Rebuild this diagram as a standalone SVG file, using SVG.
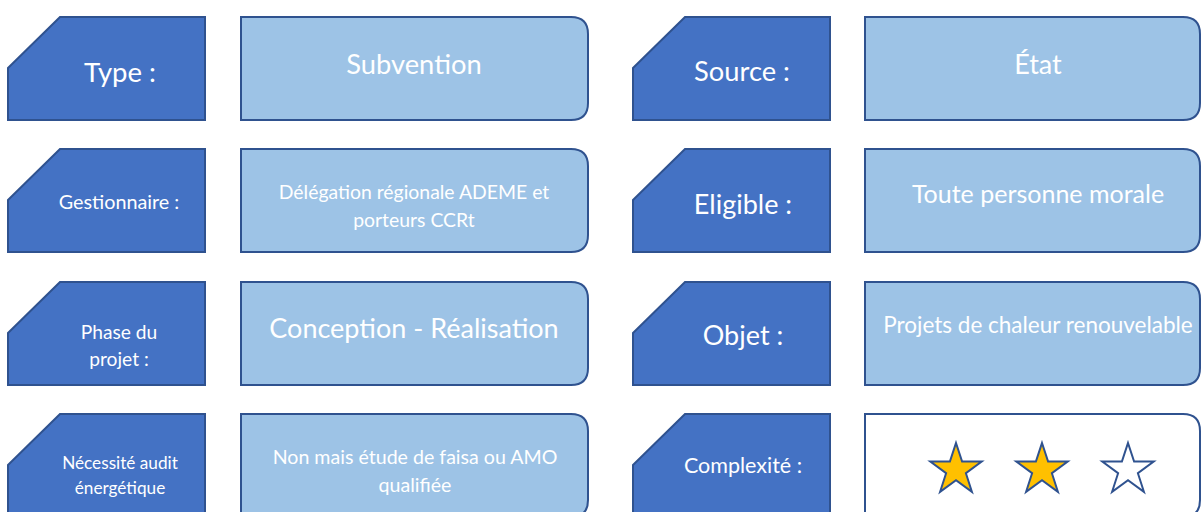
<svg xmlns="http://www.w3.org/2000/svg" width="1202" height="512" viewBox="0 0 1202 512">
<defs>
<style>
.lbl{fill:#4472C4;stroke:#2F528F;stroke-width:2}
.val{fill:#9DC3E6;stroke:#2F528F;stroke-width:2}
.valw{fill:#FFFFFF;stroke:#2F528F;stroke-width:2}
text{font-family:Lato,"Open Sans","Liberation Sans",sans-serif;fill:#FFFFFF;text-anchor:middle}
.star{stroke:#2F528F;stroke-width:2}
</style>
<path id="cut" d="M0,51 L52,0 L197,0 L197,103 L0,103 Z"/>
<path id="rnd" d="M0,0 L330,0 Q347,0 347,17 L347,86 Q347,103 330,103 L0,103 Z"/>
<path id="rnd2" d="M0,0 L318,0 Q335,0 335,17 L335,86 Q335,103 318,103 L0,103 Z"/>
<polygon id="st" points="0,-27 6.1,-8.4 25.7,-8.4 9.9,3.2 15.9,21.8 0,10.3 -15.9,21.8 -9.9,3.2 -25.7,-8.4 -6.1,-8.4"/>
</defs>
<g id="connectors"/>
<g id="n-type"><use href="#cut" x="8" y="17" class="lbl"/><text x="120" y="82" font-size="27.5">Type :</text></g>
<g id="n-subvention"><use href="#rnd" x="241" y="17" class="val"/><text x="414" y="74" font-size="27.3">Subvention</text></g>
<g id="n-source"><use href="#cut" x="633" y="17" class="lbl"/><text x="742" y="81" font-size="27.3">Source :</text></g>
<g id="n-etat"><use href="#rnd2" x="865" y="17" class="val"/><text x="1038" y="74" font-size="27">État</text></g>

<g id="n-gestionnaire"><use href="#cut" x="8" y="149" class="lbl"/><text x="119" y="209" font-size="19.8">Gestionnaire :</text></g>
<g id="n-delegation"><use href="#rnd" x="241" y="149" class="val"/><text x="414" y="199" font-size="19.4">Délégation régionale ADEME et</text><text x="414" y="227" font-size="19.4">porteurs CCRt</text></g>
<g id="n-eligible"><use href="#cut" x="633" y="149" class="lbl"/><text x="743" y="214" font-size="27">Eligible :</text></g>
<g id="n-toute"><use href="#rnd2" x="865" y="149" class="val"/><text x="1038" y="203" font-size="25">Toute personne morale</text></g>

<g id="n-phase"><use href="#cut" x="8" y="282" class="lbl"/><text x="119" y="339" font-size="19.2">Phase du</text><text x="119" y="366" font-size="19.2">projet :</text></g>
<g id="n-conception"><use href="#rnd" x="241" y="282" class="val"/><text x="414" y="338" font-size="27">Conception - Réalisation</text></g>
<g id="n-objet"><use href="#cut" x="633" y="282" class="lbl"/><text x="743" y="345" font-size="27">Objet :</text></g>
<g id="n-projets"><use href="#rnd2" x="865" y="282" class="val"/><text x="1038" y="333" font-size="22.5">Projets de chaleur renouvelable</text></g>

<g id="n-audit"><use href="#cut" x="8" y="414" class="lbl"/><text x="120" y="469" font-size="17.2">Nécessité audit</text><text x="120" y="494" font-size="17.2">énergétique</text></g>
<g id="n-nonmais"><use href="#rnd" x="241" y="414" class="val"/><text x="415" y="464" font-size="19.6">Non mais étude de faisa ou AMO</text><text x="415" y="492" font-size="19.6">qualifiée</text></g>
<g id="n-complexite"><use href="#cut" x="633" y="414" class="lbl"/><text x="743" y="473" font-size="21.5">Complexité :</text></g>
<g id="n-stars"><use href="#rnd2" x="865" y="414" class="valw"/>
<use href="#st" x="956" y="470" class="star" fill="#FFC000"/>
<use href="#st" x="1042" y="470" class="star" fill="#FFC000"/>
<use href="#st" x="1128" y="470" class="star" fill="#FFFFFF"/>
</g>
</svg>
